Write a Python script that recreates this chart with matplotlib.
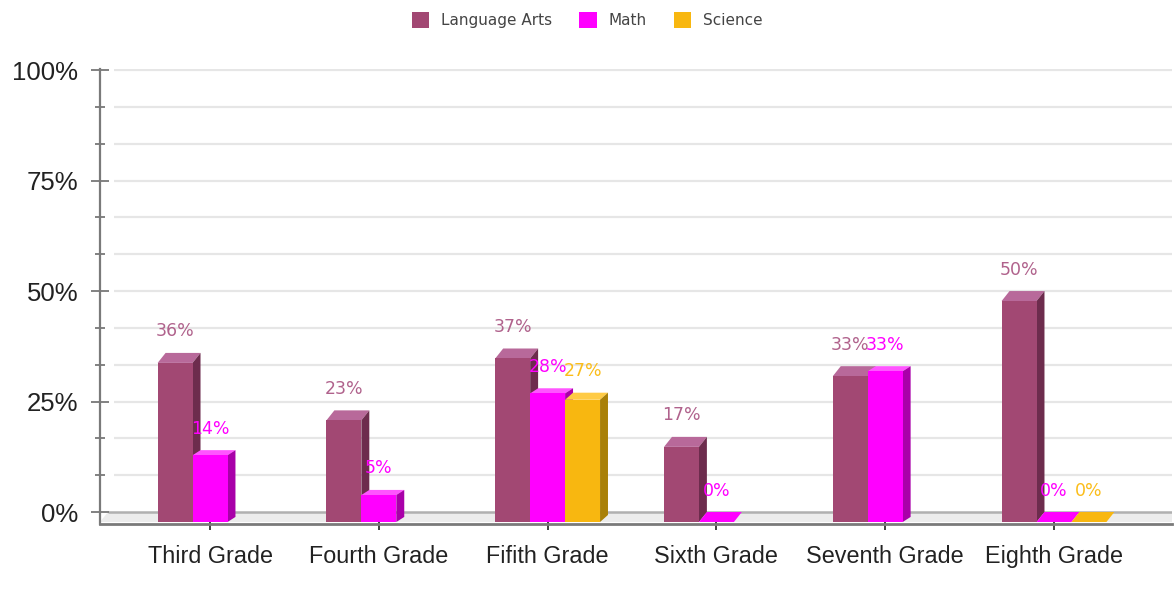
import matplotlib
matplotlib.use("Agg")
import matplotlib.pyplot as plt
from matplotlib.patches import Polygon, Patch

grades = ["Third Grade", "Fourth Grade", "Fifith Grade", "Sixth Grade", "Seventh Grade", "Eighth Grade"]
series_names = ["Language Arts", "Math", "Science"]
language_arts = [36, 23, 37, 17, 33, 50]
math_scores = [14, 5, 28, 0, 33, 0]
science = [None, None, 27, None, None, 0]

# front, side, top, label colour
styles = [
    ("#a24873", "#6d2c4d", "#b8699a", "#b0628c"),
    ("#ff00ff", "#a900a9", "#ff55ff", "#ff00ff"),
    ("#f8b710", "#a98008", "#ffcb45", "#fbbd1a"),
]
depth_y = [2.26, 1.15, 1.6]   # vertical depth of each series' top face (in % units)

W = 0.207    # bar width in category units
DX = 0.047   # horizontal depth offset
DY = 2.26    # back plane offset (in % units)

fig = plt.figure(figsize=(11.74, 5.9), dpi=100)
ax = fig.add_axes([100 / 1174, 66 / 590, 1072 / 1174, 455 / 590])
xl, xr = -0.652, 5.699
ax.set_xlim(xl, xr)
ax.set_ylim(-0.45, 102.5)

# floor
ax.add_patch(Polygon([(xl, 0), (xr, 0), (xr, DY), (xl + DX, DY)],
                     closed=True, facecolor="#ececec", edgecolor="none", zorder=1))
ax.hlines(DY, xl + DX, xr, color="#b0b0b0", lw=1.8, zorder=1.5)

# grid on back plane
grid_vals = [100 * k / 12 for k in range(1, 13)]
ax.hlines([g + DY for g in grid_vals], xl + 0.08, xr, color="#e6e6e6", lw=1.6, zorder=1.2)

all_series = [language_arts, math_scores, science]
for s, vals in enumerate(all_series):
    front, side, top, lab_col = styles[s]
    dy = depth_y[s]
    for i, v in enumerate(vals):
        if v is None:
            continue
        x0 = i - 1.5 * W + s * W
        hf = v + DY - dy if v > 0 else 0
        z = 3 + s
        if v > 0:
            ax.add_patch(Polygon([(x0 + W, 0), (x0 + W, hf), (x0 + W + DX, v + DY), (x0 + W + DX, dy)],
                                 closed=True, facecolor=side, edgecolor="none", zorder=z))
            ax.bar(x0, hf, width=W, align="edge", color=front, edgecolor="none", zorder=z)
        ax.add_patch(Polygon([(x0, hf), (x0 + W, hf), (x0 + W + DX, v + DY), (x0 + DX, v + DY)],
                             closed=True, facecolor=top if v > 0 else front, edgecolor="none",
                             zorder=z - 0.5 if v > 0 else z))
        ax.annotate(f"{v}%", (x0 + W / 2, v + DY), xytext=(0, 9), textcoords="offset points",
                    ha="center", va="bottom", color=lab_col, fontsize=12.5,
                    family="DejaVu Sans", zorder=10)

# axes styling
for side_name in ["top", "right"]:
    ax.spines[side_name].set_visible(False)
ax.spines["left"].set_color("#7a7a7a")
ax.spines["left"].set_linewidth(1.6)
ax.spines["bottom"].set_color("#7a7a7a")
ax.spines["bottom"].set_linewidth(2)

ax.set_yticks([v + DY for v in [0, 25, 50, 75, 100]])
ax.set_yticklabels([f"{v}%" for v in [0, 25, 50, 75, 100]], family="Liberation Sans",
                   fontsize=18.5, color="#222222")
ax.set_yticks([g + DY for g in grid_vals if g % 25 > 0.1], minor=True)
ax.tick_params(axis="y", which="major", direction="inout", length=13.5, width=1.3,
               color="#777777", pad=9)
ax.tick_params(axis="y", which="minor", direction="inout", length=7, width=1.3, color="#777777")

ax.set_xticks(range(len(grades)))
ax.set_xticklabels(grades, family="Liberation Sans", fontsize=16.8, color="#222222")
ax.tick_params(axis="x", direction="inout", length=8, width=1.3, color="#333333", pad=11)

handles = [Patch(facecolor=st[0], edgecolor="none") for st in styles]
leg = fig.legend(handles, series_names, loc="center", bbox_to_anchor=(0.5, 1 - 20 / 590),
                 ncol=3, frameon=False, prop={"family": "DejaVu Sans", "size": 11},
                 handlelength=1.15, handleheight=1.25, handletextpad=0.75, columnspacing=1.8)
for t in leg.get_texts():
    t.set_color("#444444")

fig.savefig("out.png", dpi=100)
